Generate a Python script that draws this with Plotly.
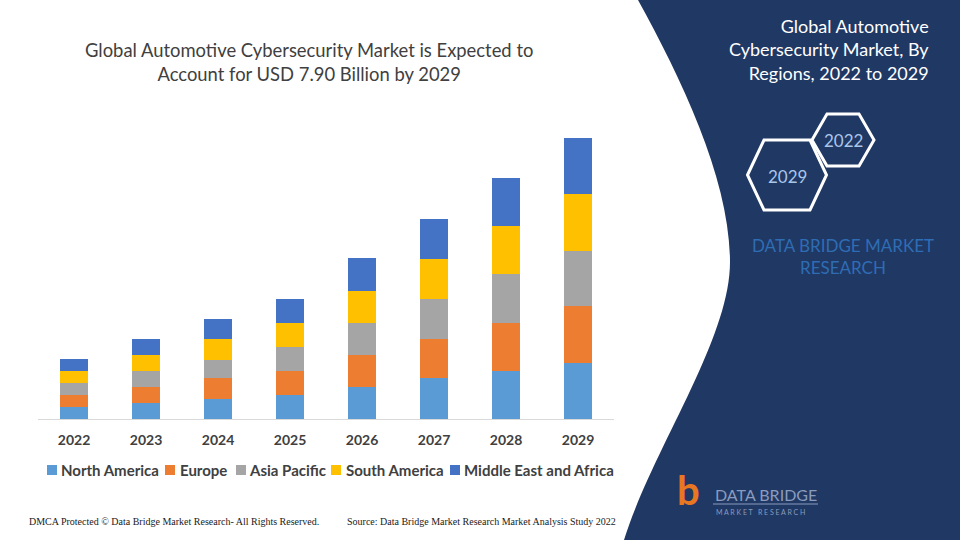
import plotly.graph_objects as go

# ---------------- data ----------------
years = ["2022", "2023", "2024", "2025", "2026", "2027", "2028", "2029"]
regions = ["North America", "Europe", "Asia Pacific", "South America", "Middle East and Africa"]
north_america = [0.33, 0.44, 0.57, 0.67, 0.91, 1.14, 1.35, 1.58]
europe        = [0.35, 0.47, 0.57, 0.68, 0.90, 1.12, 1.36, 1.59]
asia_pacific  = [0.34, 0.44, 0.53, 0.66, 0.88, 1.11, 1.35, 1.56]
south_america = [0.34, 0.46, 0.57, 0.68, 0.91, 1.13, 1.35, 1.59]
mea           = [0.33, 0.44, 0.57, 0.68, 0.91, 1.12, 1.35, 1.57]
series = [north_america, europe, asia_pacific, south_america, mea]
colors = ["#5B9BD5", "#ED7D31", "#A5A5A5", "#FFC000", "#4472C4"]

W, H = 960, 540
def px(x):
    return x / W
def py(y):
    return 1 - y / H

NAVY = "#203864"
TXT = "#404040"

fig = go.Figure()
for name, vals, col in zip(regions, series, colors):
    fig.add_bar(x=years, y=vals, name=name, marker=dict(color=col, line=dict(width=0)),
                showlegend=False)

shapes = []
annotations = []

# right navy panel with curved edge
shapes.append(dict(
    type="path", xref="paper", yref="paper", layer="below",
    path=(f"M {px(638)},{py(0)} C {px(682)},{py(80)} {px(730)},{py(180)} {px(730)},{py(262)} "
          f"C {px(730)},{py(340)} {px(652)},{py(450)} {px(624)},{py(540)} "
          f"L {px(960)},{py(540)} L {px(960)},{py(0)} Z"),
    fillcolor=NAVY, line=dict(width=0)))

# hexagons
def hexagon(cx, cy, a, b, c):
    pts = [(cx - a, cy), (cx - c, cy - b), (cx + c, cy - b), (cx + a, cy), (cx + c, cy + b), (cx - c, cy + b)]
    d = "M " + " L ".join(f"{px(x)},{py(y)}" for x, y in pts) + " Z"
    return dict(type="path", xref="paper", yref="paper", path=d,
                line=dict(color="white", width=3), fillcolor="rgba(0,0,0,0)")
shapes.append(hexagon(787, 175, 39.5, 35, 23))
shapes.append(hexagon(843, 140, 31, 26, 16))

# legend squares + names
sq_x = [47, 165, 236, 331, 450]
tx_x = [59, 178, 247, 344, 462]
for name, col, sx, tx in zip(regions, colors, sq_x, tx_x):
    shapes.append(dict(type="rect", xref="paper", yref="paper",
                       x0=px(sx), x1=px(sx + 10), y0=py(475), y1=py(465),
                       fillcolor=col, line=dict(width=0)))
    annotations.append(dict(text=name, x=px(tx), y=py(470), xref="paper", yref="paper",
                            xanchor="left", yanchor="middle", showarrow=False,
                            font=dict(family="Lato", size=15, color=TXT, weight="bold")))

# logo underline
shapes.append(dict(type="line", xref="paper", yref="paper", x0=px(713), x1=px(818),
                   y0=py(504), y1=py(504), line=dict(color="#8a9bbd", width=1)))

def note(text, x, y, size, color, xanchor="center", align="center", family="Lato", weight="normal"):
    annotations.append(dict(text=text, x=px(x), y=py(y), xref="paper", yref="paper",
                            xanchor=xanchor, yanchor="middle", showarrow=False, align=align,
                            font=dict(family=family, size=size, color=color, weight=weight)))

# titles
note("Global Automotive Cybersecurity Market is Expected to<br>Account for USD 7.90 Billion by 2029",
     309, 62, 18.4, TXT)
note("Global Automotive<br>Cybersecurity Market, By<br>Regions, 2022 to 2029",
     931, 50, 18, "white", xanchor="right", align="right")
note("DATA BRIDGE MARKET<br>RESEARCH", 843, 256, 17, "#2E6DB4")
note("2029", 787, 176, 17, "#A9C6EA")
note("2022", 843, 141, 17, "#A9C6EA")

# logo
note("b", 688, 490, 40, "#E87722", weight="bold")
note("DATA BRIDGE", 713, 494, 16, "#8a9bbd", xanchor="left")
note("M A R K E T &nbsp; R E S E A R C H", 714, 512, 7, "#8a9bbd", xanchor="left")

# footer
note("DMCA Protected © Data Bridge Market Research- All Rights Reserved.", 27, 521, 10, "#1a1a1a",
     xanchor="left", family="Liberation Serif")
note("Source: Data Bridge Market Research Market Analysis Study 2022", 345, 521, 10, "#1a1a1a",
     xanchor="left", family="Liberation Serif")

fig.update_layout(
    width=W, height=H, margin=dict(l=0, r=0, t=0, b=0),
    paper_bgcolor="white", plot_bgcolor="rgba(0,0,0,0)",
    barmode="stack", bargap=0.61,
    shapes=shapes, annotations=annotations,
    xaxis=dict(domain=[px(38), px(614)], showline=True, linecolor="#D9D9D9", linewidth=1,
               showgrid=False, ticks="", zeroline=False, ticklabelstandoff=8,
               tickfont=dict(family="Lato", size=14, color=TXT, weight="bold"), fixedrange=True),
    yaxis=dict(domain=[py(419), py(120)], range=[0, 8.40], visible=False, showgrid=False,
               fixedrange=True),
    font=dict(family="Lato"),
)

fig.write_html("out.html", config={"displayModeBar": False},
               post_script="document.body.style.margin='0';document.body.style.padding='0';"
                           "document.body.style.overflow='hidden';")
